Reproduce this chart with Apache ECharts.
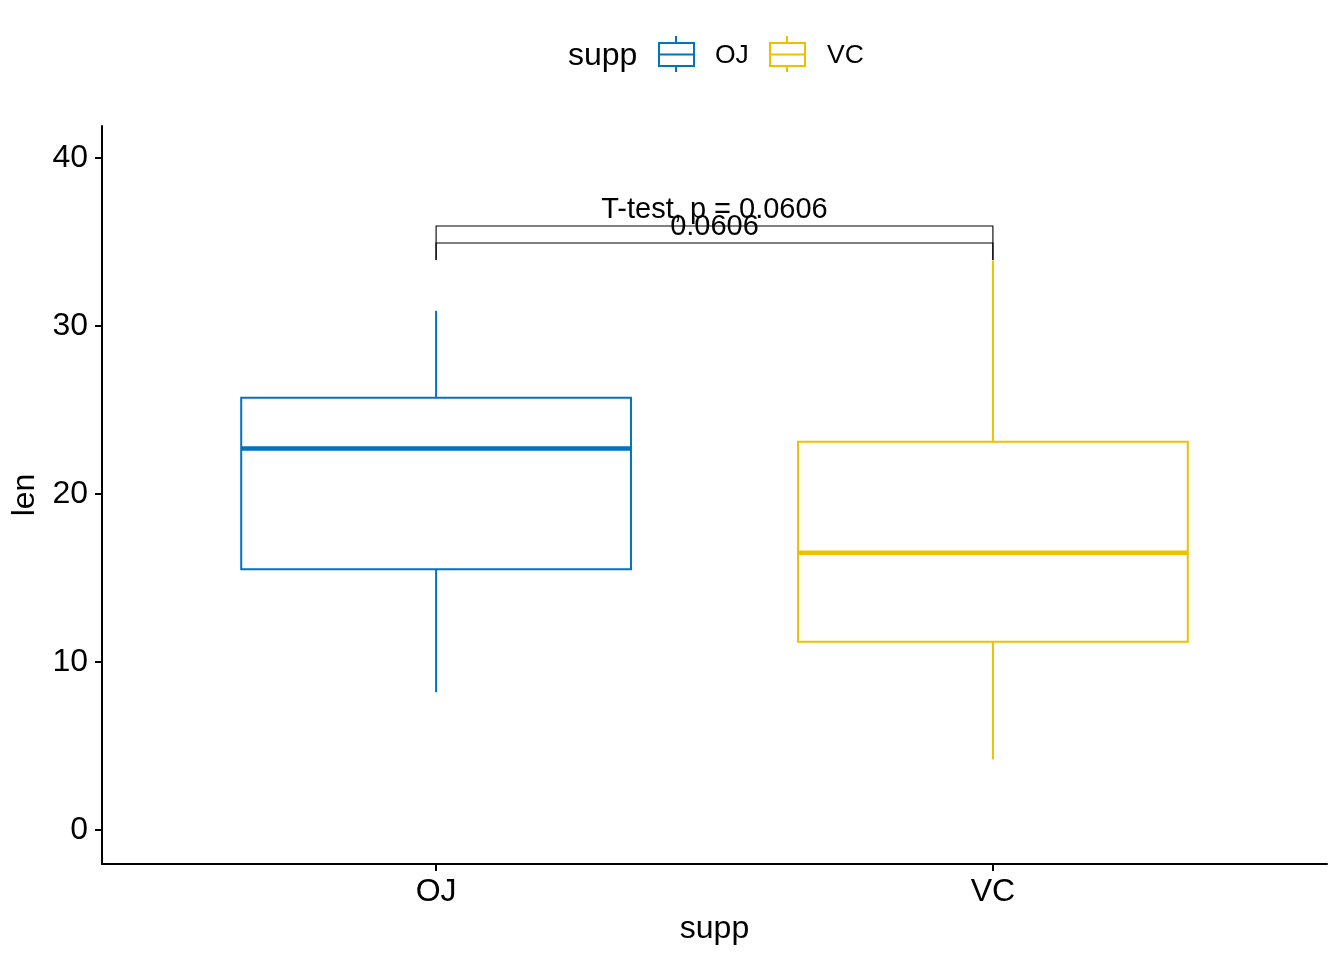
<!DOCTYPE html>
<html>
<head>
<meta charset="utf-8">
<script src="https://cdn.jsdelivr.net/npm/echarts@6/dist/echarts.min.js"></script>
<style>
html,body{margin:0;padding:0;background:#fff;}
#chart{width:1344px;height:960px;}
</style>
</head>
<body>
<div id="chart"></div>
<script>
// ---- data ----
const categories = ['OJ', 'VC'];
const lowerWhisker = [8.2, 4.2];
const q1 = [15.525, 11.2];
const median = [22.7, 16.5];
const q3 = [25.725, 23.1];
const upperWhisker = [30.9, 33.9];
const colors = ['#0073C2', '#EFC000'];
const yTicks = [0, 10, 20, 30, 40];
// brackets
const bracketY = [35.95, 34.94];
const bracketTip = [33.93, 33.93];
const bracketLabels = ['T-test, p = 0.0606', '0.0606'];

const FONT = 'Liberation Sans, Arial, sans-serif';
const chart = echarts.init(document.getElementById('chart'), null, {renderer: 'canvas'});

function boxRender(params, api) {
  const x = api.value(0);
  const lw = api.value(1), b1 = api.value(2), md = api.value(3), b3 = api.value(4), uw = api.value(5);
  const halfW = api.size([0.7, 0])[0] / 2;
  const pLW = api.coord([x, lw]), pQ1 = api.coord([x, b1]), pMd = api.coord([x, md]),
        pQ3 = api.coord([x, b3]), pUW = api.coord([x, uw]);
  const cx = pMd[0];
  const color = colors[params.seriesIndex];
  return {
    type: 'group',
    children: [
      {type: 'line', shape: {x1: cx, y1: pUW[1], x2: cx, y2: pQ3[1]}, style: {stroke: color, lineWidth: 2}},
      {type: 'line', shape: {x1: cx, y1: pQ1[1], x2: cx, y2: pLW[1]}, style: {stroke: color, lineWidth: 2}},
      {type: 'rect', shape: {x: cx - halfW, y: pQ3[1], width: 2 * halfW, height: pQ1[1] - pQ3[1]},
        style: {fill: '#fff', stroke: color, lineWidth: 2}},
      {type: 'line', shape: {x1: cx - halfW, y1: pMd[1], x2: cx + halfW, y2: pMd[1]}, style: {stroke: color, lineWidth: 4.5}}
    ]
  };
}

function bracketRender(params, api) {
  const x1 = api.value(0), x2 = api.value(1), yl = api.value(2), yt = api.value(3);
  const a = api.coord([x1, yl]), b = api.coord([x2, yl]);
  const at = api.coord([x1, yt]), bt = api.coord([x2, yt]);
  const label = bracketLabels[params.dataIndex];
  return {
    type: 'group',
    children: [
      {type: 'polyline', shape: {points: [[at[0], at[1]], [a[0], a[1]], [b[0], b[1]], [bt[0], bt[1]]]},
        style: {stroke: '#000', lineWidth: 1.1, fill: null}},
      {type: 'text', x: (a[0] + b[0]) / 2, y: a[1] - 1,
        style: {text: label, fill: '#000', font: '29px ' + FONT, align: 'center', verticalAlign: 'bottom'}}
    ]
  };
}

const series = categories.map((cat, i) => ({
  type: 'custom',
  name: cat,
  renderItem: boxRender,
  data: [[i + 1, lowerWhisker[i], q1[i], median[i], q3[i], upperWhisker[i]]],
  encode: {x: 0, y: [1, 2, 3, 4, 5]},
  z: 2
}));
series.push({
  type: 'custom',
  name: 'bracket',
  renderItem: bracketRender,
  data: bracketY.map((y, i) => [1, 2, y, bracketTip[i]]),
  encode: {x: [0, 1], y: [2, 3]},
  z: 3
});

const legendItems = [];
categories.forEach((cat, i) => {
  const x0 = [659, 770][i];
  const c = colors[i];
  legendItems.push(
    {type: 'line', shape: {x1: x0 + 17, y1: 36, x2: x0 + 17, y2: 72}, style: {stroke: c, lineWidth: 2}},
    {type: 'rect', shape: {x: x0, y: 43, width: 35, height: 23}, style: {fill: '#fff', stroke: c, lineWidth: 2}},
    {type: 'line', shape: {x1: x0, y1: 54.5, x2: x0 + 35, y2: 54.5}, style: {stroke: c, lineWidth: 2}},
    {type: 'text', x: [715, 827][i], y: 56, style: {text: cat, fill: '#000', font: '26.5px ' + FONT, verticalAlign: 'middle'}}
  );
});
legendItems.push({type: 'text', x: 568, y: 56, style: {text: 'supp', fill: '#000', font: '32px ' + FONT, verticalAlign: 'middle'}});

chart.setOption({
  animation: false,
  backgroundColor: '#fff',
  grid: {left: 102, right: 17, top: 126, bottom: 96, containLabel: false},
  xAxis: {
    type: 'value', min: 0.4, max: 2.6,
    name: 'supp', nameLocation: 'middle', nameGap: 48,
    nameTextStyle: {fontSize: 32, color: '#000', fontFamily: FONT},
    axisLine: {show: true, onZero: false, lineStyle: {color: '#000', width: 2}},
    axisTick: {show: true, length: 7, lineStyle: {color: '#000', width: 2}, customValues: [1, 2]},
    axisLabel: {fontSize: 32, color: '#000', fontFamily: FONT, margin: 12, customValues: [1, 2],
      formatter: v => categories[Math.round(v) - 1] || ''},
    splitLine: {show: false}
  },
  yAxis: {
    type: 'value', min: -2.024, max: 41.9,
    name: 'len', nameLocation: 'middle', nameGap: 59, nameRotate: 90,
    nameTextStyle: {fontSize: 32, color: '#000', fontFamily: FONT},
    axisLine: {show: true, onZero: false, lineStyle: {color: '#000', width: 2}},
    axisTick: {show: true, length: 7, lineStyle: {color: '#000', width: 2}, customValues: yTicks},
    axisLabel: {fontSize: 32, color: '#000', fontFamily: FONT, margin: 14, customValues: yTicks},
    splitLine: {show: false}
  },
  series: series,
  graphic: legendItems
});
</script>
</body>
</html>
